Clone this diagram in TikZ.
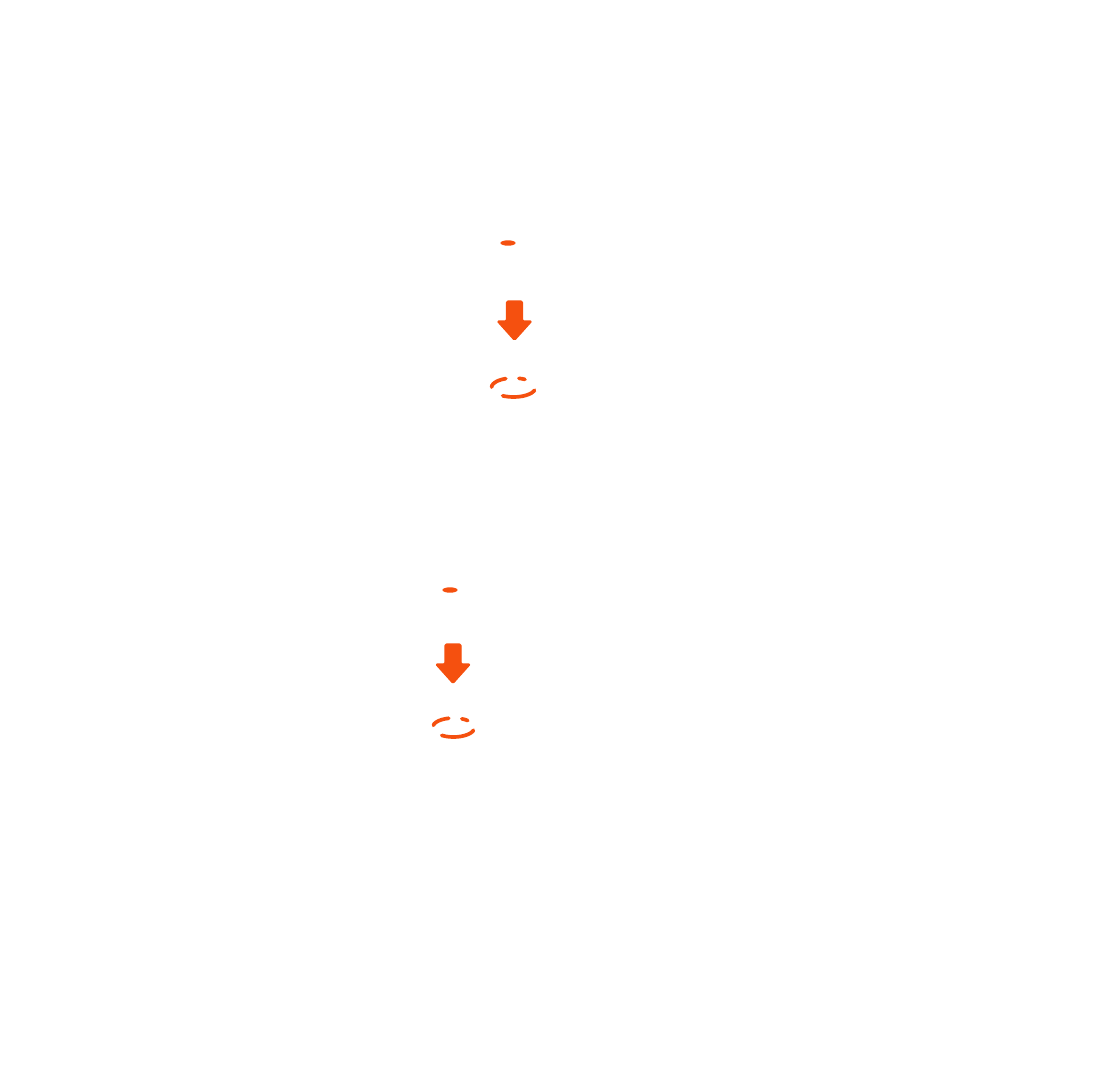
\documentclass[tikz,border=0pt]{standalone}
\usetikzlibrary{calc}
\definecolor{flame}{HTML}{F5500F}
\tikzset{
 dot/.style={fill=flame,draw=none},
 drop/.style={fill=flame,draw=flame,line width=.6pt,line join=round,rounded corners=.8pt},
 ring/.style={draw=flame,line width=2.1pt,line cap=round,
  dash pattern=on 19.2pt off 8.6pt on 10pt off 7.5pt on 3.5pt off 9.55pt,dash phase=56.7pt},
}
% block arrow pointing down: #1 = centre x, #2 = top y (pixel units)
\newcommand{\dropdown}[2]{
 \path[drop] (#1-8,#2) -- (#1+8,#2) -- (#1+8,#2+20) -- (#1+17.5,#2+20)
  -- (#1,#2+39.5) -- (#1-17.5,#2+20) -- (#1-8,#2+20) -- cycle;
}

\begin{document}
\begin{tikzpicture}[x=0.02cm,y=-0.02cm]

\useasboundingbox (0,0) rectangle (1098,1080);
% upper group
\coordinate (dotA) at (508,243);
\coordinate (arrowA) at (514.5,301);
\coordinate (ringA) at (513.5,387.5);
\fill[dot] (dotA) ellipse [x radius=7.6,y radius=2.7];
\dropdown{514.5}{301}
\draw[ring] (ringA) ellipse [x radius=22,y radius=9.5];
% lower group
\coordinate (dotB) at (450,590);
\coordinate (arrowB) at (453,644);
\coordinate (ringB) at (453.5,727.5);
\fill[dot] (dotB) ellipse [x radius=7.6,y radius=2.7];
\dropdown{453}{644}
\draw[ring] (ringB) ellipse [x radius=21,y radius=9.5];

\end{tikzpicture}
\end{document}
